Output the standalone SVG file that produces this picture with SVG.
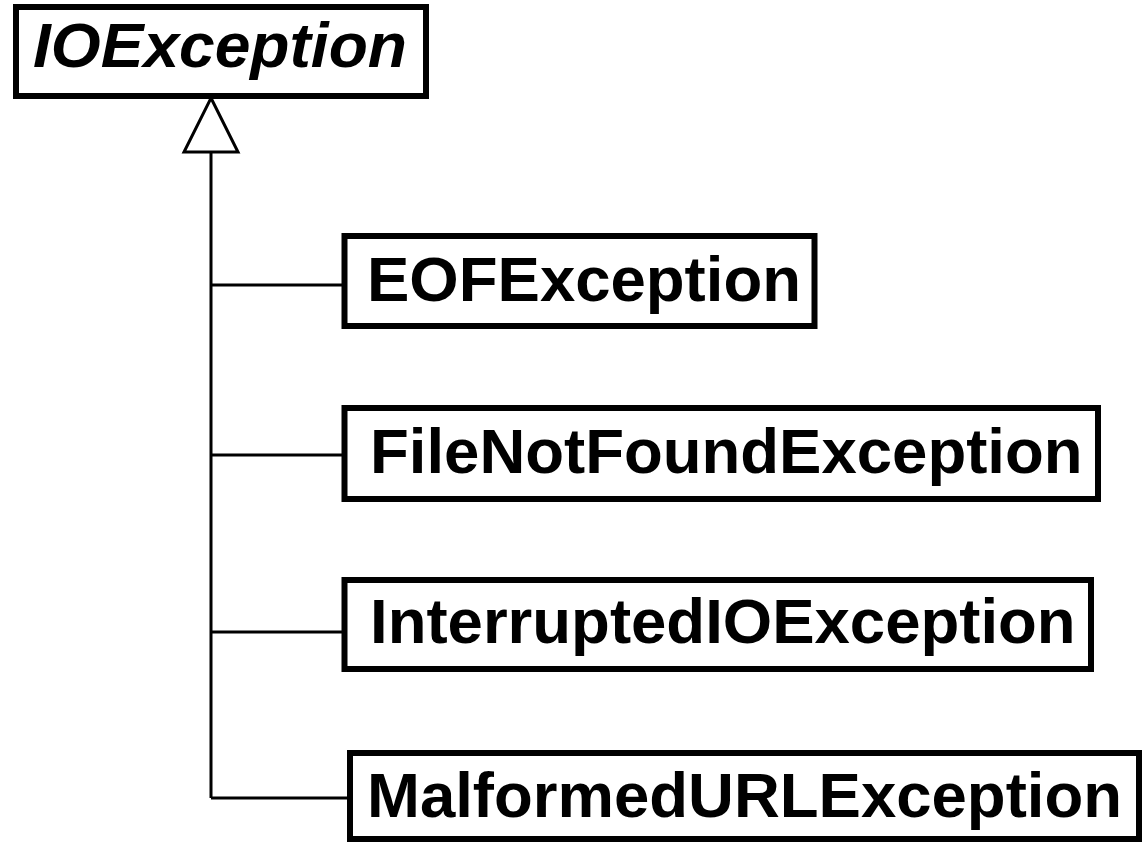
<svg xmlns="http://www.w3.org/2000/svg" width="1147" height="850" viewBox="0 0 1147 850">
<style>
.box{fill:#fff;stroke:#000;stroke-width:6}
.lbl{font-family:"Liberation Sans",Arial,sans-serif;font-weight:bold;font-size:63.5px;fill:#000}
.it{font-style:italic}
.con{fill:none;stroke:#000;stroke-width:3}
</style>
<rect width="1147" height="850" fill="#fff"/>
<g id="connectors">
<line class="con" x1="211" y1="152" x2="211" y2="798"/>
<line class="con" x1="211" y1="285" x2="343" y2="285"/>
<line class="con" x1="211" y1="455" x2="343" y2="455"/>
<line class="con" x1="211" y1="632" x2="343" y2="632"/>
<line class="con" x1="211" y1="798" x2="348" y2="798"/>
<polygon class="con" points="211,98 238,152 184,152" fill="#fff"/>
</g>
<g id="IOException">
<rect class="box" x="16" y="7" width="410" height="89"/>
<text class="lbl it" x="33" y="67" textLength="374" lengthAdjust="spacingAndGlyphs">IOException</text>
</g>
<g id="EOFException">
<rect class="box" x="344.5" y="236" width="470" height="90"/>
<text class="lbl" x="367" y="301">EOFException</text>
</g>
<g id="FileNotFoundException">
<rect class="box" x="344.5" y="408" width="753.5" height="91"/>
<text class="lbl" x="370" y="473">FileNotFoundException</text>
</g>
<g id="InterruptedIOException">
<rect class="box" x="344.5" y="580" width="746.5" height="89"/>
<text class="lbl" x="370" y="643">InterruptedIOException</text>
</g>
<g id="MalformedURLException">
<rect class="box" x="350" y="753" width="789" height="86"/>
<text class="lbl" x="367" y="817">MalformedURLException</text>
</g>
</svg>
